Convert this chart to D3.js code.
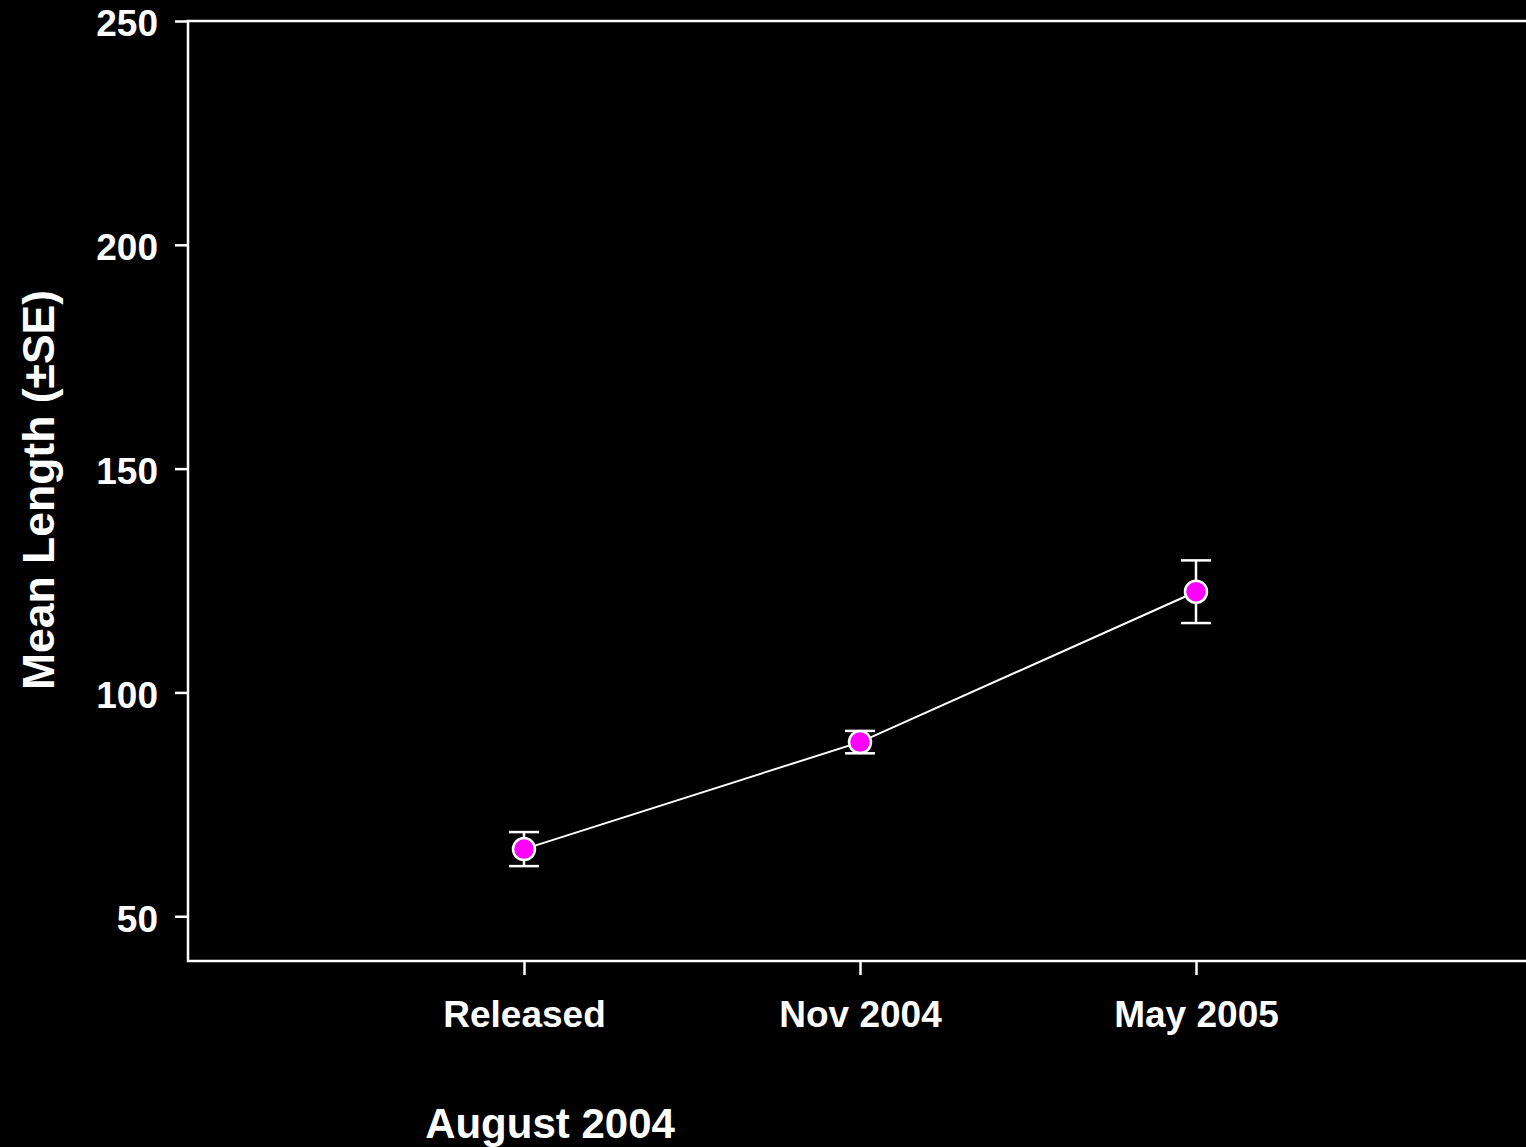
<!DOCTYPE html>
<html>
<head>
<meta charset="utf-8">
<script src="https://cdn.jsdelivr.net/npm/d3@7/dist/d3.min.js"></script>
<style>
  html, body { margin: 0; padding: 0; background: #000; overflow: hidden; }
  svg { display: block; }
  text { font-family: "Liberation Sans", Arial, sans-serif; font-weight: bold; fill: #fff; }
</style>
</head>
<body>
<svg id="chart" width="1526" height="1147"></svg>
<script>
// Sampling occasions and mean length (±SE)
const categories = ["Released", "Nov 2004", "May 2005"];
const meanLength = [65.0, 88.9, 122.5];
const stdError = [3.8, 2.5, 7.0];
const yTicks = [50, 100, 150, 200, 250];
const yLabel = "Mean Length (±SE)";
const subLabel = "August 2004";

const svg = d3.select("#chart");
const W = 1526, H = 1147;
svg.append("rect").attr("width", W).attr("height", H).attr("fill", "#000");

const plotLeft = 188, plotTop = 21, plotBottom = 961, plotRight = 1532;

// Category positions: slot 0 is the left edge, slots 1..3 hold the points
const x = d3.scaleLinear().domain([0, 4]).range([plotLeft, plotRight]);
const y = d3.scaleLinear().domain([40, 250]).range([plotBottom, plotTop]);

const g = svg.append("g");

// Frame
g.append("path")
  .attr("d", `M${plotRight},${plotTop}H${plotLeft}V${plotBottom}H${plotRight}`)
  .attr("fill", "none").attr("stroke", "#fff").attr("stroke-width", 2.5);

// Y axis
const yAxis = g.append("g")
  .attr("transform", `translate(${plotLeft},0)`)
  .call(d3.axisLeft(y).tickValues(yTicks).tickSize(13).tickPadding(17).tickFormat(d3.format("d")));
yAxis.select(".domain").remove();
yAxis.selectAll(".tick line").attr("stroke", "#fff").attr("stroke-width", 2.5);
yAxis.selectAll(".tick text")
  .attr("fill", "#fff").attr("dy", "0.4em").style("font-size", "37px")
  .style("font-family", "'Liberation Sans', Arial, sans-serif").style("font-weight", "bold");

// X axis
const xAxis = g.append("g")
  .attr("transform", `translate(0,${plotBottom})`)
  .call(d3.axisBottom(x).tickValues([1, 2, 3]).tickSize(14).tickPadding(26)
        .tickFormat(d => categories[d - 1]));
xAxis.select(".domain").remove();
xAxis.selectAll(".tick line").attr("stroke", "#fff").attr("stroke-width", 2.5);
xAxis.selectAll(".tick text")
  .attr("fill", "#fff").style("font-size", "37px")
  .style("font-family", "'Liberation Sans', Arial, sans-serif").style("font-weight", "bold");

// Sub label under the first category
g.append("text")
  .attr("x", x(1) + 26).attr("y", 1138)
  .attr("text-anchor", "middle")
  .style("font-size", "42px")
  .text(subLabel);

// Y axis title
g.append("text")
  .attr("transform", `translate(54,490) rotate(-90)`)
  .attr("text-anchor", "middle")
  .style("font-size", "44.5px")
  .text(yLabel);

const data = categories.map((c, i) => ({ i: i + 1, m: meanLength[i], se: stdError[i] }));

// Connecting line
g.append("path")
  .datum(data)
  .attr("d", d3.line().x(d => x(d.i)).y(d => y(d.m)))
  .attr("fill", "none").attr("stroke", "#fff").attr("stroke-width", 2);

// Error bars
const capHalf = 15;
const eb = g.append("g").attr("stroke", "#fff").attr("stroke-width", 2.5);
data.forEach(d => {
  eb.append("line").attr("x1", x(d.i)).attr("x2", x(d.i)).attr("y1", y(d.m - d.se)).attr("y2", y(d.m + d.se));
  eb.append("line").attr("x1", x(d.i) - capHalf).attr("x2", x(d.i) + capHalf).attr("y1", y(d.m + d.se)).attr("y2", y(d.m + d.se));
  eb.append("line").attr("x1", x(d.i) - capHalf).attr("x2", x(d.i) + capHalf).attr("y1", y(d.m - d.se)).attr("y2", y(d.m - d.se));
});

// Points
g.selectAll("circle.pt").data(data).enter().append("circle")
  .attr("class", "pt")
  .attr("cx", d => x(d.i)).attr("cy", d => y(d.m))
  .attr("r", 11)
  .attr("fill", "#ff00ff").attr("stroke", "#fff").attr("stroke-width", 2.5);
</script>
</body>
</html>
